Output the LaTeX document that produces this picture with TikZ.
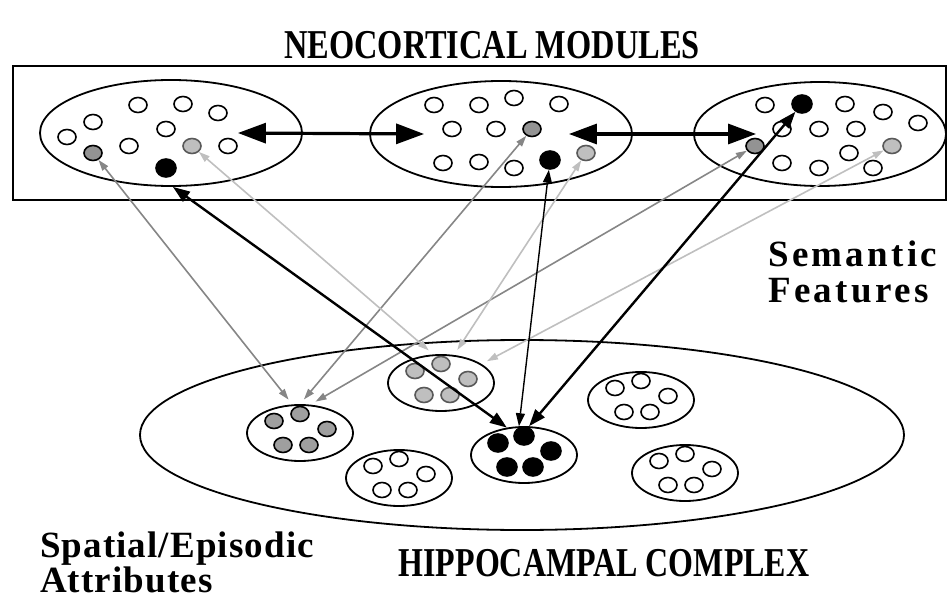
\documentclass[tikz,border=0pt]{standalone}
\usepackage{fontspec}
\usepackage{graphicx}
\setmainfont{Liberation Serif}
\usetikzlibrary{arrows.meta,shapes.geometric}

\begin{document}
\begin{tikzpicture}[x=1pt,y=-1pt]

\tikzstyle{mod} = [ellipse, draw=black, line width=1.8pt, minimum width=262pt, minimum height=106pt, inner sep=0pt]
\tikzstyle{grp} = [ellipse, draw=black, line width=1.8pt, minimum width=106pt, minimum height=56pt, inner sep=0pt]
\tikzstyle{dot} = [ellipse, draw=black, line width=1.6pt, minimum width=18pt, minimum height=15pt, inner sep=0pt]
\tikzstyle{wh} = [dot, fill=white]
\tikzstyle{dk} = [dot, fill=gray!85]
\tikzstyle{lt} = [dot, fill=gray!50, draw=gray!70!black]
\tikzstyle{md} = [dot, fill=gray!75]
\tikzstyle{bk} = [dot, fill=black, minimum width=20pt, minimum height=18pt]
\tikzstyle{big} = [line width=3.2pt, {Triangle[length=28pt,width=20pt]}-{Triangle[length=28pt,width=20pt]}]
\tikzstyle{blk} = [line width=2.4pt, {Triangle[length=17pt,width=12pt]}-{Triangle[length=17pt,width=12pt]}]
\tikzstyle{thn} = [line width=1.4pt, {Triangle[length=13pt,width=9pt]}-{Triangle[length=13pt,width=9pt]}]
\tikzstyle{gdk} = [line width=1.6pt, draw=gray!95, {Triangle[length=11pt,width=7pt]}-{Triangle[length=11pt,width=7pt]}, shorten >=6pt]
\tikzstyle{glt} = [line width=1.6pt, draw=gray!50, {Triangle[length=11pt,width=7pt]}-{Triangle[length=11pt,width=7pt]}, shorten >=6pt]
\tikzstyle{lbl} = [inner sep=0pt, anchor=north west, align=left]
\tikzstyle{ttl} = [inner sep=0pt, font=\bfseries\fontsize{41}{41}\selectfont]

\useasboundingbox (0,0) rectangle (948,596);

% neocortex
\node (neo) [ttl] at (492,45) {\scalebox{0.79}[1]{NEOCORTICAL MODULES}};
\node (box) [draw, line width=1.8pt, minimum width=933pt, minimum height=134pt, inner sep=0pt] at (479.5,133) {};
\node (m1) [mod] at (171,133) {};
\node (m2) [mod] at (501,134) {};
\node (m3) [mod, minimum width=252pt, minimum height=104pt] at (820,134) {};

\foreach \x/\y [count=\i] in {67/137,93/122,138/105,183/104,218/113,166/129,129/146,228/146}
  \node (a\i) [wh] at (\x,\y) {};
\node (ag) [dk] at (93,153) {};
\node (al) [lt] at (192,146) {};
\node (ab) [bk] at (166,168) {};

\foreach \x/\y [count=\i] in {434/105,479/105,514/98,559/104,452/129,496/129,443/163,479/162,514/168}
  \node (b\i) [wh] at (\x,\y) {};
\node (bg) [dk] at (532,129) {};
\node (bb) [bk] at (550,160) {};
\node (bl) [lt] at (586,153) {};

\foreach \x/\y [count=\i] in {765/105,845/104,883/112,918/123,782/129,819/129,856/129,782/163,819/168,849/153,873/168}
  \node (c\i) [wh] at (\x,\y) {};
\node (cb) [bk] at (802,104) {};
\node (cg) [dk] at (755,146) {};
\node (cl) [lt] at (892,146) {};

% hippocampus
\node (hip) [ellipse, draw=black, line width=1.8pt, minimum width=764pt, minimum height=190pt, inner sep=0pt] at (522,435) {};
\foreach \n/\cx/\cy/\s in {gA/300/433/md, gB/441/383/lt, gC/524/455/bk, gD/641/400/wh, gE/685/473/wh, gF/399/478/wh}{
  \node (\n) [grp] at (\cx,\cy) {};
  \foreach \dx/\dy [count=\i] in {-26/-12,0/-19,27/-4,-17/12,9/12}
    \node (\n\i) [\s] at (\cx+\dx,\cy+\dy) {};
}

% connections
\draw[big] ([xshift=-65pt]m1.east) -- ([xshift=55pt]m2.west);
\draw[big] ([xshift=-64pt]m2.east) -- ([xshift=63pt]m3.west);
\draw[gdk] (ag) -- (gA.105);
\draw[gdk] (bg) -- (gA.90);
\draw[gdk] (cg) -- (gA.70);
\draw[glt] (al) -- (gB.105);
\draw[glt] (bl) -- (gB.65);
\draw[glt] (cl) -- (gB.25);
\draw[blk] (m1.272) -- (gC.122);
\draw[thn] (bb) -- (gC.100);
\draw[blk] (cb) -- (gC.80);

% labels
\node (sem) [lbl, font=\bfseries\fontsize{37}{36}\selectfont\addfontfeature{LetterSpace=9}] at (768,241) {Semantic\\Features};
\node (spa) [lbl, font=\bfseries\fontsize{37}{31}\selectfont\addfontfeature{LetterSpace=3}] at (40,532) {Spatial/Episodic\\Attributes};
\node (hc) [ttl] at (604,563) {\scalebox{0.78}[1]{HIPPOCAMPAL COMPLEX}};
\end{tikzpicture}
\end{document}
